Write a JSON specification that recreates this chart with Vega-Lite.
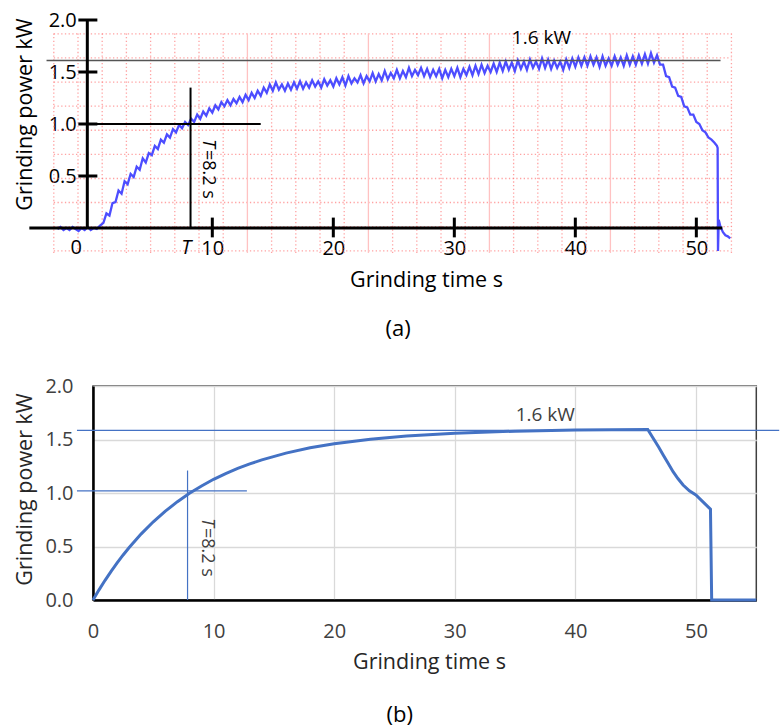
{
  "$schema": "https://vega.github.io/schema/vega-lite/v6.json",
  "padding": {"left": 13, "top": 10, "right": 0, "bottom": 0},
  "spacing": 35,
  "config": {"font": "Open Sans", "view": {"stroke": null}},
  "datasets": {
    "a_gridv": [
      {"x": -3.1, "y": -0.24, "y2": 1.87}, {"x": -1.1, "y": -0.24, "y2": 1.87}, {"x": 0.9, "y": -0.24, "y2": 1.87}, {"x": 2.9, "y": -0.24, "y2": 1.87}, {"x": 4.9, "y": -0.24, "y2": 1.87}, {"x": 6.9, "y": -0.24, "y2": 1.87}, {"x": 8.9, "y": -0.24, "y2": 1.87}, {"x": 10.9, "y": -0.24, "y2": 1.87}, {"x": 14.9, "y": -0.24, "y2": 1.87}, {"x": 16.9, "y": -0.24, "y2": 1.87}, {"x": 18.9, "y": -0.24, "y2": 1.87}, {"x": 20.9, "y": -0.24, "y2": 1.87}, {"x": 24.9, "y": -0.24, "y2": 1.87}, {"x": 26.9, "y": -0.24, "y2": 1.87}, {"x": 28.9, "y": -0.24, "y2": 1.87}, {"x": 30.9, "y": -0.24, "y2": 1.87}, {"x": 34.9, "y": -0.24, "y2": 1.87}, {"x": 36.9, "y": -0.24, "y2": 1.87}, {"x": 38.9, "y": -0.24, "y2": 1.87}, {"x": 40.9, "y": -0.24, "y2": 1.87}, {"x": 44.9, "y": -0.24, "y2": 1.87}, {"x": 46.9, "y": -0.24, "y2": 1.87}, {"x": 48.9, "y": -0.24, "y2": 1.87}, {"x": 50.9, "y": -0.24, "y2": 1.87}, {"x": 52.9, "y": -0.24, "y2": 1.87}
    ],
    "a_gridsolid": [
      {"x": 12.9, "y": -0.24, "y2": 1.87}, {"x": 22.9, "y": -0.24, "y2": 1.87}, {"x": 32.9, "y": -0.24, "y2": 1.87}, {"x": 42.9, "y": -0.24, "y2": 1.87}
    ],
    "a_gridh": [
      {"y": -0.219, "x": -3.1, "x2": 52.9}, {"y": 0.013, "x": -3.1, "x2": 52.9}, {"y": 0.245, "x": -3.1, "x2": 52.9}, {"y": 0.476, "x": -3.1, "x2": 52.9}, {"y": 0.708, "x": -3.1, "x2": 52.9}, {"y": 0.94, "x": -3.1, "x2": 52.9}, {"y": 1.171, "x": -3.1, "x2": 52.9}, {"y": 1.403, "x": -3.1, "x2": 52.9}, {"y": 1.635, "x": -3.1, "x2": 52.9}, {"y": 1.866, "x": -3.1, "x2": 52.9}
    ],
    "a_line": [
      {"x":-2.8,"y":-0.01},{"x":-2.55,"y":0.01},{"x":-2.3,"y":-0.02},{"x":-2.05,"y":0.0},{"x":-1.8,"y":-0.02},{"x":-1.55,"y":0.01},{"x":-1.3,"y":-0.01},{"x":-1.05,"y":-0.03},{"x":-0.8,"y":0.0},{"x":-0.55,"y":-0.02},{"x":-0.3,"y":0.01},{"x":-0.05,"y":-0.02},{"x":0.2,"y":0.0},{"x":0.45,"y":-0.01},{"x":0.7,"y":0.02},
      {"x":1.0,"y":0.05},{"x":1.25,"y":0.14},{"x":1.5,"y":0.12},{"x":1.75,"y":0.24},{"x":2.0,"y":0.25},{"x":2.25,"y":0.36},{"x":2.5,"y":0.33},{"x":2.75,"y":0.45},{"x":3.0,"y":0.42},{"x":3.25,"y":0.52},{"x":3.5,"y":0.49},{"x":3.75,"y":0.59},{"x":4.0,"y":0.56},{"x":4.25,"y":0.67},{"x":4.5,"y":0.63},{"x":4.75,"y":0.72},{"x":5.0,"y":0.70},{"x":5.25,"y":0.79},{"x":5.5,"y":0.76},{"x":5.75,"y":0.85},{"x":6.0,"y":0.82},{"x":6.25,"y":0.90},{"x":6.5,"y":0.87},{"x":6.75,"y":0.95},{"x":7.0,"y":0.92},{"x":7.25,"y":0.99},{"x":7.5,"y":0.96},{"x":7.75,"y":1.02},{"x":8.0,"y":0.99},{"x":8.25,"y":1.05},{"x":8.5,"y":1.02},{"x":8.75,"y":1.09},{"x":9.0,"y":1.05},{"x":9.25,"y":1.12},{"x":9.5,"y":1.08},{"x":9.75,"y":1.15},{"x":10.0,"y":1.11},{"x":10.25,"y":1.18},{"x":10.5,"y":1.14},{"x":10.75,"y":1.21},{"x":11.0,"y":1.17},{"x":11.25,"y":1.23},{"x":11.5,"y":1.18},{"x":11.75,"y":1.24},{"x":12.0,"y":1.20},{"x":12.25,"y":1.26},{"x":12.5,"y":1.21},{"x":12.75,"y":1.28},{"x":13.0,"y":1.23},{"x":13.25,"y":1.30},{"x":13.5,"y":1.25},{"x":13.75,"y":1.32},{"x":14.0,"y":1.27},{"x":14.25,"y":1.35},{"x":14.5,"y":1.30},{"x":14.75,"y":1.38},{"x":15.0,"y":1.32},{"x":15.25,"y":1.40},{"x":15.5,"y":1.33},{"x":15.75,"y":1.38},{"x":16.0,"y":1.32},{"x":16.25,"y":1.39},{"x":16.5,"y":1.33},{"x":16.75,"y":1.40},{"x":17.0,"y":1.34},{"x":17.25,"y":1.41},{"x":17.5,"y":1.34},{"x":17.75,"y":1.40},{"x":18.0,"y":1.35},{"x":18.25,"y":1.42},{"x":18.5,"y":1.36},{"x":18.75,"y":1.41},{"x":19.0,"y":1.35},{"x":19.25,"y":1.43},{"x":19.5,"y":1.37},{"x":19.75,"y":1.42},{"x":20.0,"y":1.36},{"x":20.25,"y":1.44},{"x":20.5,"y":1.38},{"x":20.75,"y":1.45},{"x":21.0,"y":1.37},{"x":21.25,"y":1.46},{"x":21.5,"y":1.39},{"x":21.75,"y":1.44},{"x":22.0,"y":1.40},{"x":22.25,"y":1.47},{"x":22.5,"y":1.39},{"x":22.75,"y":1.46},{"x":23.0,"y":1.41},{"x":23.25,"y":1.49},{"x":23.5,"y":1.41},{"x":23.75,"y":1.48},{"x":24.0,"y":1.42},{"x":24.25,"y":1.51},{"x":24.5,"y":1.43},{"x":24.75,"y":1.49},{"x":25.0,"y":1.44},{"x":25.25,"y":1.52},{"x":25.5,"y":1.44},{"x":25.75,"y":1.51},{"x":26.0,"y":1.45},{"x":26.25,"y":1.54},{"x":26.5,"y":1.46},{"x":26.75,"y":1.52},{"x":27.0,"y":1.47},{"x":27.25,"y":1.54},{"x":27.5,"y":1.46},{"x":27.75,"y":1.53},{"x":28.0,"y":1.45},{"x":28.25,"y":1.52},{"x":28.5,"y":1.46},{"x":28.75,"y":1.53},{"x":29.0,"y":1.44},{"x":29.25,"y":1.52},{"x":29.5,"y":1.45},{"x":29.75,"y":1.53},{"x":30.0,"y":1.46},{"x":30.25,"y":1.54},{"x":30.5,"y":1.45},{"x":30.75,"y":1.53},{"x":31.0,"y":1.47},{"x":31.25,"y":1.55},{"x":31.5,"y":1.47},{"x":31.75,"y":1.56},{"x":32.0,"y":1.48},{"x":32.25,"y":1.57},{"x":32.5,"y":1.49},{"x":32.75,"y":1.56},{"x":33.0,"y":1.50},{"x":33.25,"y":1.58},{"x":33.5,"y":1.50},{"x":33.75,"y":1.59},{"x":34.0,"y":1.51},{"x":34.25,"y":1.60},{"x":34.5,"y":1.52},{"x":34.75,"y":1.59},{"x":35.0,"y":1.51},{"x":35.25,"y":1.61},{"x":35.5,"y":1.53},{"x":35.75,"y":1.60},{"x":36.0,"y":1.52},{"x":36.25,"y":1.62},{"x":36.5,"y":1.54},{"x":36.75,"y":1.60},{"x":37.0,"y":1.53},{"x":37.25,"y":1.63},{"x":37.5,"y":1.54},{"x":37.75,"y":1.62},{"x":38.0,"y":1.53},{"x":38.25,"y":1.61},{"x":38.5,"y":1.54},{"x":38.75,"y":1.60},{"x":39.0,"y":1.52},{"x":39.25,"y":1.62},{"x":39.5,"y":1.54},{"x":39.75,"y":1.63},{"x":40.0,"y":1.55},{"x":40.25,"y":1.64},{"x":40.5,"y":1.56},{"x":40.75,"y":1.64},{"x":41.0,"y":1.56},{"x":41.25,"y":1.65},{"x":41.5,"y":1.57},{"x":41.75,"y":1.64},{"x":42.0,"y":1.55},{"x":42.25,"y":1.65},{"x":42.5,"y":1.56},{"x":42.75,"y":1.63},{"x":43.0,"y":1.56},{"x":43.25,"y":1.65},{"x":43.5,"y":1.57},{"x":43.75,"y":1.64},{"x":44.0,"y":1.56},{"x":44.25,"y":1.66},{"x":44.5,"y":1.57},{"x":44.75,"y":1.65},{"x":45.0,"y":1.57},{"x":45.25,"y":1.66},{"x":45.5,"y":1.58},{"x":45.75,"y":1.67},{"x":46.0,"y":1.58},{"x":46.25,"y":1.68},{"x":46.5,"y":1.59},{"x":46.75,"y":1.66},{"x":47.0,"y":1.57},{"x":47.25,"y":1.57},{"x":47.5,"y":1.46},{"x":47.75,"y":1.45},{"x":48.0,"y":1.36},{"x":48.25,"y":1.35},{"x":48.5,"y":1.27},{"x":48.75,"y":1.26},{"x":49.0,"y":1.17},{"x":49.25,"y":1.16},{"x":49.5,"y":1.09},{"x":49.75,"y":1.09},{"x":50.0,"y":1.02},{"x":50.25,"y":1.00},{"x":50.5,"y":0.94},{"x":50.75,"y":0.92},{"x":51.0,"y":0.87},{"x":51.25,"y":0.85},{"x":51.5,"y":0.82},{"x":51.7,"y":0.79},{"x":51.76,"y":0.77},{"x":51.79,"y":-0.22},{"x":51.85,"y":0.08},{"x":52.0,"y":0.01},{"x":52.2,"y":-0.04},{"x":52.4,"y":-0.07},{"x":52.6,"y":-0.08},{"x":52.8,"y":-0.10}
    ],
    "a_thick_h": [
      {"x": -5.12, "x2": 52.15, "y": 0},
      {"x": -1.07, "x2": 0.5, "y": 0.5}, {"x": -1.07, "x2": 0.5, "y": 1.0}, {"x": -1.07, "x2": 0.5, "y": 1.5}, {"x": -1.07, "x2": 0.5, "y": 2.0}
    ],
    "a_thick_v": [
      {"x": -0.33, "y": 0, "y2": 2.0},
      {"x": 10, "y": -0.09, "y2": 0.1}, {"x": 20, "y": -0.09, "y2": 0.1}, {"x": 30, "y": -0.09, "y2": 0.1}, {"x": 40, "y": -0.09, "y2": 0.1}, {"x": 50, "y": -0.09, "y2": 0.1}
    ],
    "a_cross_h": [{"x": -0.66, "x2": 14.0, "y": 1.0}],
    "a_cross_v": [{"x": 8.2, "y": 0, "y2": 1.35}],
    "a_ref": [{"x": -3.7, "x2": 52.0, "y": 1.61}],
    "a_note": [{"x": 37.2, "y": 1.83, "label": "1.6 kW"}],
    "a_zero": [{"x": -1.24, "y": -0.19, "label": "0"}],
    "a_tlabel": [{"x": 7.85, "y": -0.19, "label": "T"}],
    "a_rot_t": [{"x": 9.67, "y": 0.856, "label": "T"}],
    "a_rot_rest": [{"x": 9.67, "y": 0.75, "label": "=8.2 s"}],
    "b_line": [
      {"x":0,"y":0},{"x":0.5,"y":0.095},{"x":1,"y":0.184},{"x":1.5,"y":0.268},{"x":2,"y":0.346},{"x":2.5,"y":0.421},{"x":3,"y":0.49},{"x":4,"y":0.618},{"x":5,"y":0.731},{"x":6,"y":0.83},{"x":7,"y":0.919},{"x":8,"y":0.997},{"x":9,"y":1.066},{"x":10,"y":1.128},{"x":11,"y":1.182},{"x":12,"y":1.23},{"x":13,"y":1.272},{"x":14,"y":1.31},{"x":16,"y":1.373},{"x":18,"y":1.422},{"x":20,"y":1.46},{"x":23,"y":1.503},{"x":26,"y":1.533},{"x":30,"y":1.559},{"x":35,"y":1.578},{"x":40,"y":1.588},{"x":46,"y":1.594},{"x":46.45,"y":1.511},{"x":46.9,"y":1.43},{"x":47.28,"y":1.355},{"x":47.7,"y":1.275},{"x":48.1,"y":1.199},{"x":48.5,"y":1.135},{"x":48.93,"y":1.075},{"x":49.45,"y":1.02},{"x":49.99,"y":0.981},{"x":51.2,"y":0.848},{"x":51.3,"y":0.0},{"x":55,"y":0.0}
    ],
    "b_hrules": [{"x": -1.33, "x2": 56.9, "y": 1.585}, {"x": -1.33, "x2": 12.76, "y": 1.02}],
    "b_vrules": [{"x": 7.84, "y": 0, "y2": 1.21}],
    "b_note": [{"x": 37.5, "y": 1.73, "label": "1.6 kW"}],
    "b_rot_t": [{"x": 9.44, "y": 0.766, "label": "T"}],
    "b_rot_rest": [{"x": 9.44, "y": 0.673, "label": "=8.2 s"}]
  },
  "vconcat": [
    {
      "width": 642.3,
      "height": 208,
      "title": {"text": "(a)", "orient": "bottom", "frame": "group", "anchor": "middle", "dx": -16, "offset": 28, "fontSize": 22, "fontWeight": "normal", "color": "black"},
      "encoding": {
        "x": {"field": "x", "type": "quantitative",
          "scale": {"domain": [0.14, 53.22], "nice": false, "zero": false},
          "axis": {"values": [10, 20, 30, 40, 50], "domain": false, "ticks": false, "grid": false, "labelPadding": 10, "labelFontSize": 20, "labelColor": "black", "labelFlush": false, "title": "Grinding time s", "titleFontSize": 21.5, "titleFontWeight": "normal", "titleColor": "black", "titlePadding": 11, "titleX": 333}},
        "y": {"field": "y", "type": "quantitative",
          "scale": {"domain": [0, 2], "nice": false, "zero": false},
          "axis": {"values": [0.5, 1, 1.5, 2], "format": ".1f", "domain": false, "ticks": false, "grid": false, "labelPadding": 16.7, "labelFontSize": 20, "labelColor": "black", "labelFlush": false, "title": "Grinding power kW", "titleFontSize": 21.5, "titleFontWeight": "normal", "titleColor": "black", "titlePadding": 12, "titleY": 94}}
      },
      "layer": [
        {"data": {"name": "a_gridv"}, "mark": {"type": "rule", "color": "#ff7070", "opacity": 0.65, "strokeWidth": 1.3, "strokeDash": [1.3, 2.4]}, "encoding": {"y2": {"field": "y2"}}},
        {"data": {"name": "a_gridh"}, "mark": {"type": "rule", "color": "#ff7070", "opacity": 0.65, "strokeWidth": 1.3, "strokeDash": [1.3, 2.4]}, "encoding": {"x2": {"field": "x2"}}},
        {"data": {"name": "a_gridsolid"}, "mark": {"type": "rule", "color": "#ffc2c2", "strokeWidth": 1.3}, "encoding": {"y2": {"field": "y2"}}},
        {"data": {"name": "a_line"}, "mark": {"type": "line", "color": "#4d4dff", "strokeWidth": 2.3, "strokeJoin": "miter"}, "encoding": {}},
        {"data": {"name": "a_ref"}, "mark": {"type": "rule", "color": "#555555", "strokeWidth": 1.5}, "encoding": {"x2": {"field": "x2"}}},
        {"data": {"name": "a_cross_h"}, "mark": {"type": "rule", "color": "black", "strokeWidth": 2}, "encoding": {"x2": {"field": "x2"}}},
        {"data": {"name": "a_cross_v"}, "mark": {"type": "rule", "color": "black", "strokeWidth": 2}, "encoding": {"y2": {"field": "y2"}}},
        {"data": {"name": "a_thick_h"}, "mark": {"type": "rule", "color": "black", "strokeWidth": 3}, "encoding": {"x2": {"field": "x2"}}},
        {"data": {"name": "a_thick_v"}, "mark": {"type": "rule", "color": "black", "strokeWidth": 3}, "encoding": {"y2": {"field": "y2"}}},
        {"data": {"name": "a_note"}, "mark": {"type": "text", "fontSize": 19, "color": "black", "align": "center", "baseline": "middle"}, "encoding": {"text": {"field": "label"}}},
        {"data": {"name": "a_zero"}, "mark": {"type": "text", "fontSize": 20, "color": "black", "align": "center", "baseline": "middle"}, "encoding": {"text": {"field": "label"}}},
        {"data": {"name": "a_tlabel"}, "mark": {"type": "text", "fontSize": 20, "fontStyle": "italic", "color": "black", "align": "center", "baseline": "middle"}, "encoding": {"text": {"field": "label"}}},
        {"data": {"name": "a_rot_t"}, "mark": {"type": "text", "fontSize": 18, "fontStyle": "italic", "angle": 90, "color": "black", "align": "left", "baseline": "middle"}, "encoding": {"text": {"field": "label"}}},
        {"data": {"name": "a_rot_rest"}, "mark": {"type": "text", "fontSize": 18, "angle": 90, "color": "black", "align": "left", "baseline": "middle"}, "encoding": {"text": {"field": "label"}}}
      ]
    },
    {
      "width": 663.3,
      "height": 214,
      "view": {"stroke": "#404040", "strokeWidth": 1.5},
      "title": {"text": "(b)", "orient": "bottom", "frame": "group", "anchor": "middle", "dx": -25, "offset": 32, "fontSize": 22, "fontWeight": "normal", "color": "black"},
      "encoding": {
        "x": {"field": "x", "type": "quantitative",
          "scale": {"domain": [0, 55], "nice": false, "zero": false},
          "axis": {"values": [0, 10, 20, 30, 40, 50], "domain": true, "domainColor": "black", "domainWidth": 2.5, "ticks": false, "grid": true, "gridColor": "#d9d9d9", "gridWidth": 1.3, "labelPadding": 21, "labelFontSize": 20, "labelColor": "#404040", "labelFlush": false, "title": "Grinding time s", "titleFontSize": 21.5, "titleFontWeight": "normal", "titleColor": "#262626", "titlePadding": 10, "titleX": 336}},
        "y": {"field": "y", "type": "quantitative",
          "scale": {"domain": [0, 2], "nice": false, "zero": false},
          "axis": {"values": [0, 0.5, 1, 1.5, 2], "format": ".1f", "domain": true, "domainColor": "black", "domainWidth": 2.5, "ticks": false, "grid": true, "gridColor": "#d9d9d9", "gridWidth": 1.3, "labelPadding": 20, "labelFontSize": 20, "labelColor": "#404040", "labelFlush": false, "title": "Grinding power kW", "titleFontSize": 21.5, "titleFontWeight": "normal", "titleColor": "#262626", "titlePadding": 8.5, "titleY": 103}}
      },
      "layer": [
        {"data": {"name": "b_hrules"}, "mark": {"type": "rule", "color": "#4472c4", "strokeWidth": 1.2}, "encoding": {"x2": {"field": "x2"}}},
        {"data": {"name": "b_vrules"}, "mark": {"type": "rule", "color": "#4472c4", "strokeWidth": 1.2}, "encoding": {"y2": {"field": "y2"}}},
        {"data": {"name": "b_line"}, "mark": {"type": "line", "color": "#4472c4", "strokeWidth": 3}, "encoding": {}},
        {"data": {"name": "b_note"}, "mark": {"type": "text", "fontSize": 19, "color": "#404040", "align": "center", "baseline": "middle"}, "encoding": {"text": {"field": "label"}}},
        {"data": {"name": "b_rot_t"}, "mark": {"type": "text", "fontSize": 18, "fontStyle": "italic", "angle": 90, "color": "#404040", "align": "left", "baseline": "middle"}, "encoding": {"text": {"field": "label"}}},
        {"data": {"name": "b_rot_rest"}, "mark": {"type": "text", "fontSize": 18, "angle": 90, "color": "#404040", "align": "left", "baseline": "middle"}, "encoding": {"text": {"field": "label"}}}
      ]
    }
  ]
}
